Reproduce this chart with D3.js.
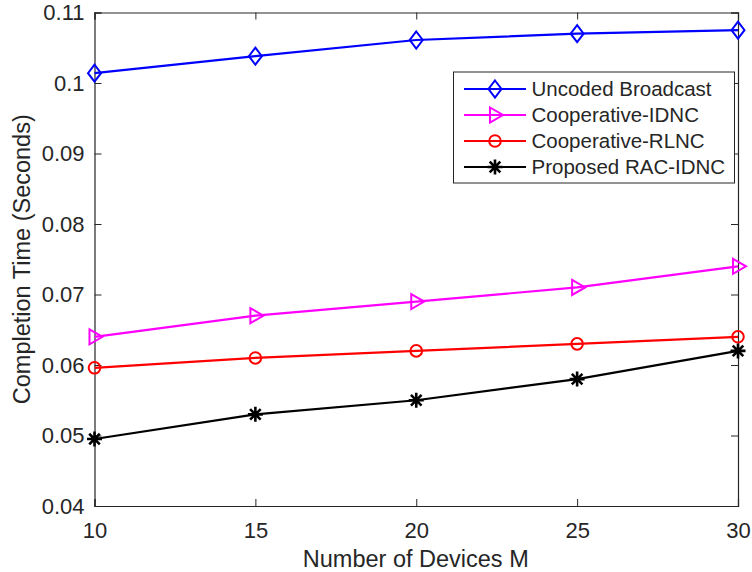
<!DOCTYPE html>
<html><head><meta charset="utf-8">
<script src="https://cdn.jsdelivr.net/npm/d3@7"></script>
<style>body{margin:0;background:#fff;} text{font-family:"Liberation Sans",Arial,Helvetica,sans-serif;fill:#262626;}</style>
</head><body>
<svg id="c" width="752" height="572"></svg>
<script>
const devices = [10, 15, 20, 25, 30];
const uncoded = [0.1014, 0.1038, 0.1061, 0.1070, 0.1075];
const coopIDNC = [0.064, 0.067, 0.069, 0.071, 0.074];
const coopRLNC = [0.0596, 0.061, 0.062, 0.063, 0.064];
const racIDNC = [0.0495, 0.053, 0.055, 0.058, 0.062];
const xTicks = [10, 15, 20, 25, 30];
const yTicks = [0.04, 0.05, 0.06, 0.07, 0.08, 0.09, 0.1, 0.11];
const seriesNames = ["Uncoded Broadcast", "Cooperative-IDNC", "Cooperative-RLNC", "Proposed RAC-IDNC"];
const seriesColors = ["#0000ff", "#ff00ff", "#ff0000", "#000000"];
const seriesMarkers = ["diamond", "triangle", "circle", "star"];
const seriesValues = [uncoded, coopIDNC, coopRLNC, racIDNC];

const svg = d3.select("#c");
const L = 94.5, R = 738, T = 12.5, B = 506;
const x = d3.scaleLinear().domain([10, 30]).range([L, R]);
const y = d3.scaleLinear().domain([0.04, 0.11]).range([B, T]);
const axisColor = "#262626";
const tickFont = "22px";

// axes
const gx = svg.append("g").attr("transform", `translate(0,${B})`)
  .call(d3.axisBottom(x).tickValues(xTicks).tickSize(-7).tickPadding(16).tickFormat(d3.format("d")));
const gxt = svg.append("g").attr("transform", `translate(0,${T})`)
  .call(d3.axisTop(x).tickValues(xTicks).tickSize(-7).tickFormat(""));
const gy = svg.append("g").attr("transform", `translate(${L},0)`)
  .call(d3.axisLeft(y).tickValues(yTicks).tickSize(-7).tickPadding(10).tickFormat(d => d === 0.1 ? "0.1" : d3.format(".2f")(d)));
const gyr = svg.append("g").attr("transform", `translate(${R},0)`)
  .call(d3.axisRight(y).tickValues(yTicks).tickSize(-7).tickFormat(""));
[gx, gxt, gy, gyr].forEach(g => {
  g.select(".domain").attr("stroke", axisColor).attr("stroke-width", 1.2);
  g.selectAll(".tick line").attr("stroke", axisColor).attr("stroke-width", 1);
  g.selectAll(".tick text").style("font-size", tickFont).attr("fill", axisColor);
});
gx.selectAll(".tick text").attr("dy", "0.71em");

svg.append("text").attr("x", (L + R) / 2 - 0.5).attr("y", 566.5).attr("text-anchor", "middle")
  .style("font-size", "23.5px").text("Number of Devices M");
svg.append("text").attr("transform", `translate(29.5,${(T + B) / 2}) rotate(-90)`).attr("text-anchor", "middle")
  .style("font-size", "23.5px").text("Completion Time (Seconds)");

function marker(g, type, color, cx, cy) {
  if (type === "diamond") {
    g.append("path").attr("d", `M${cx},${cy-8.5}L${cx+6.5},${cy}L${cx},${cy+8.5}L${cx-6.5},${cy}Z`)
      .attr("fill", "none").attr("stroke", color).attr("stroke-width", 2);
  } else if (type === "triangle") {
    g.append("path").attr("d", `M${cx-5},${cy-7.5}L${cx+8},${cy}L${cx-5},${cy+7.5}Z`)
      .attr("fill", "none").attr("stroke", color).attr("stroke-width", 2);
  } else if (type === "circle") {
    g.append("circle").attr("cx", cx).attr("cy", cy).attr("r", 5.8)
      .attr("fill", "none").attr("stroke", color).attr("stroke-width", 2);
  } else {
    const r = 7.5;
    let d = "";
    for (let k = 0; k < 4; k++) {
      const a = k * Math.PI / 4;
      d += `M${cx - r*Math.cos(a)},${cy - r*Math.sin(a)}L${cx + r*Math.cos(a)},${cy + r*Math.sin(a)}`;
    }
    g.append("path").attr("d", d).attr("stroke", color).attr("stroke-width", 2.6);
  }
}

const line = d3.line().x(d => x(d[0])).y(d => y(d[1]));
seriesValues.forEach((vals, i) => {
  const pts = devices.map((d, j) => [d, vals[j]]);
  const g = svg.append("g");
  g.append("path").datum(pts).attr("d", line).attr("fill", "none")
    .attr("stroke", seriesColors[i]).attr("stroke-width", 2.2);
  pts.forEach(p => marker(g, seriesMarkers[i], seriesColors[i], x(p[0]), y(p[1])));
});

// legend
const lg = svg.append("g");
lg.append("rect").attr("x", 453.5).attr("y", 72).attr("width", 281).attr("height", 111)
  .attr("fill", "#fff").attr("stroke", axisColor).attr("stroke-width", 1);
seriesNames.forEach((name, i) => {
  const yy = 89 + i * 26;
  lg.append("line").attr("x1", 464).attr("x2", 526).attr("y1", yy).attr("y2", yy)
    .attr("stroke", seriesColors[i]).attr("stroke-width", 2.2);
  marker(lg, seriesMarkers[i], seriesColors[i], 495, yy);
  lg.append("text").attr("x", 531.5).attr("y", yy).attr("dy", "0.35em")
    .style("font-size", "20.5px").text(name);
});
</script>
</body></html>
